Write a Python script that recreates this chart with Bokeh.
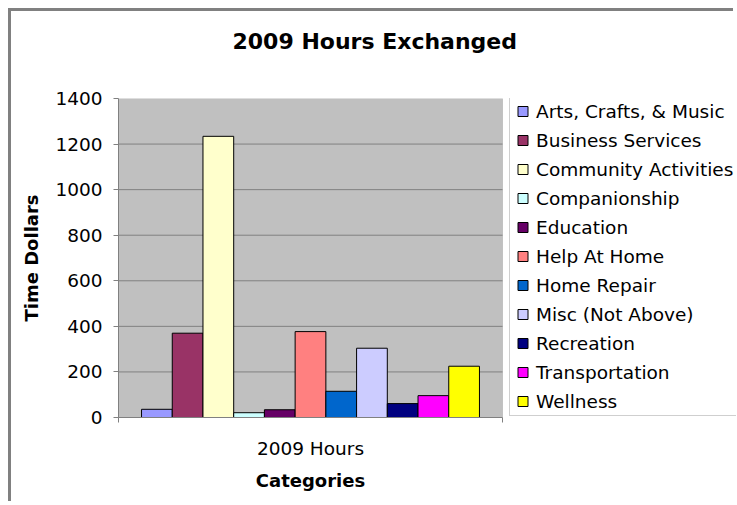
from bokeh.plotting import figure
from bokeh.models import (Range1d, FixedTicker, Legend, LegendItem, ColumnDataSource,
                          Title, BoxAnnotation, LinearAxis)
from bokeh.embed import file_html
from bokeh.resources import INLINE

# ---- data ----
title_text = "2009 Hours Exchanged"
x_title = "Categories"
y_title = "Time Dollars"
category = "2009 Hours"
series = ["Arts, Crafts, & Music", "Business Services", "Community Activities",
          "Companionship", "Education", "Help At Home", "Home Repair",
          "Misc (Not Above)", "Recreation", "Transportation", "Wellness"]
values = [36, 370, 1234, 21, 34, 377, 115, 304, 61, 96, 225]
colors = ["#9999FF", "#993366", "#FFFFCC", "#CCFFFF", "#660066", "#FF8080",
          "#0066CC", "#CCCCFF", "#000080", "#FF00FF", "#FFFF00"]
y_ticks = [0, 200, 400, 600, 800, 1000, 1200, 1400]

FONT = "DejaVu Sans"
GRAY = "#808080"

# layout: plot area 384px wide, legend area to its right inside the same frame
PLOT_W = 384
FRAME_W = 618
n = len(series)
gap = 1.5
bar_w = 1.0 / (n + gap)

p = figure(width=725, height=493, x_range=Range1d(0, FRAME_W / PLOT_W),
           y_range=Range1d(0, y_ticks[-1]),
           output_backend="svg", toolbar_location=None,
           min_border_left=107, min_border_right=0, min_border_top=87, min_border_bottom=87)
p.styles = {"margin-left": "8px", "margin-top": "8px",
            "border-left": "3px solid #808080", "border-top": "3px solid #808080"}

p.background_fill_color = "white"
p.border_fill_color = "white"
p.outline_line_color = None
p.xgrid.visible = False
p.ygrid.visible = False

# plot area (grey box) spanning the category axis 0..1
p.add_layout(BoxAnnotation(left=0, right=1, bottom=y_ticks[0], top=y_ticks[-1],
                           fill_color="#C0C0C0", fill_alpha=1,
                           line_color=GRAY, line_width=1, level="underlay"))
# horizontal gridlines across the plot area
grid_src = ColumnDataSource(dict(y=y_ticks[1:-1]))
p.segment(x0=0, x1=1, y0="y", y1="y", source=grid_src, line_color=GRAY, line_width=1)

items = []
for i, (name, val, col) in enumerate(zip(series, values, colors)):
    src = ColumnDataSource(dict(x=[0.5 + (i - (n - 1) / 2) * bar_w], top=[val], cat=[category]))
    p.vbar(x="x", top="top", width=bar_w, source=src, fill_color=col,
           line_color="black", line_width=1)
    # legend key (square swatch of the same series)
    key = p.scatter(x="x", y="top", source=src, marker="square", size=0,
                    fill_color=col, line_color="black", line_width=1)
    items.append(LegendItem(label=name, renderers=[key]))

legend = Legend(items=items, location=(PLOT_W + 7, 1), orientation="vertical",
                padding=0, spacing=1, margin=0, label_height=28, label_width=205,
                glyph_height=28, glyph_width=25, label_standoff=1,
                border_line_color="#A0A0A0", border_line_width=1,
                background_fill_color="white", background_fill_alpha=1,
                label_text_font=FONT, label_text_font_size="18.5px",
                label_text_color="black")
p.add_layout(legend, "center")

# title (a blank spacer keeps the title well above the plot area)
spacer = Title(text=" ", text_font=FONT, text_font_size="10px", standoff=32)
p.add_layout(spacer, "above")
title = Title(text=title_text, text_font=FONT, text_font_size="22px",
              text_font_style="bold", text_color="black",
              align="left", offset=114, standoff=0)
p.add_layout(title, "above")

# y axis
yax = p.yaxis[0]
yax.ticker = FixedTicker(ticks=y_ticks)
yax.axis_line_color = GRAY
yax.major_tick_line_color = GRAY
yax.major_tick_out = 5
yax.major_tick_in = 0
yax.minor_tick_line_color = None
yax.major_label_text_font = FONT
yax.major_label_text_font_size = "18.5px"
yax.major_label_text_color = "black"
yax.major_label_standoff = 11
yax.axis_label = y_title
yax.axis_label_text_font = FONT
yax.axis_label_text_font_size = "18px"
yax.axis_label_text_font_style = "bold"
yax.axis_label_text_color = "black"
yax.axis_label_standoff = 10

# x axis (category label)
xax = p.xaxis[0]
xax.bounds = (0, 1)
xax.ticker = FixedTicker(ticks=[0.5], minor_ticks=[0, 1])
xax.major_label_overrides = {0.5: category}
xax.axis_line_color = GRAY
xax.major_tick_line_color = None
xax.major_tick_out = 0
xax.major_tick_in = 0
xax.minor_tick_line_color = GRAY
xax.minor_tick_out = 5
xax.minor_tick_in = 0
xax.major_label_text_font = FONT
xax.major_label_text_font_size = "18.5px"
xax.major_label_text_color = "black"
xax.major_label_standoff = 15

# x axis title, centred under the plot area
xtitle = LinearAxis(ticker=FixedTicker(ticks=[0.5], minor_ticks=[]),
                    major_label_overrides={0.5: x_title}, bounds=(0, 1),
                    axis_line_color=None, major_tick_line_color=None,
                    minor_tick_line_color=None, major_tick_out=0, major_tick_in=0,
                    minor_tick_out=0, minor_tick_in=0,
                    major_label_text_font=FONT, major_label_text_font_size="18px",
                    major_label_text_font_style="bold", major_label_text_color="black",
                    major_label_standoff=8)
p.add_layout(xtitle, "below")

open("out.html", "w").write(file_html(p, INLINE))
